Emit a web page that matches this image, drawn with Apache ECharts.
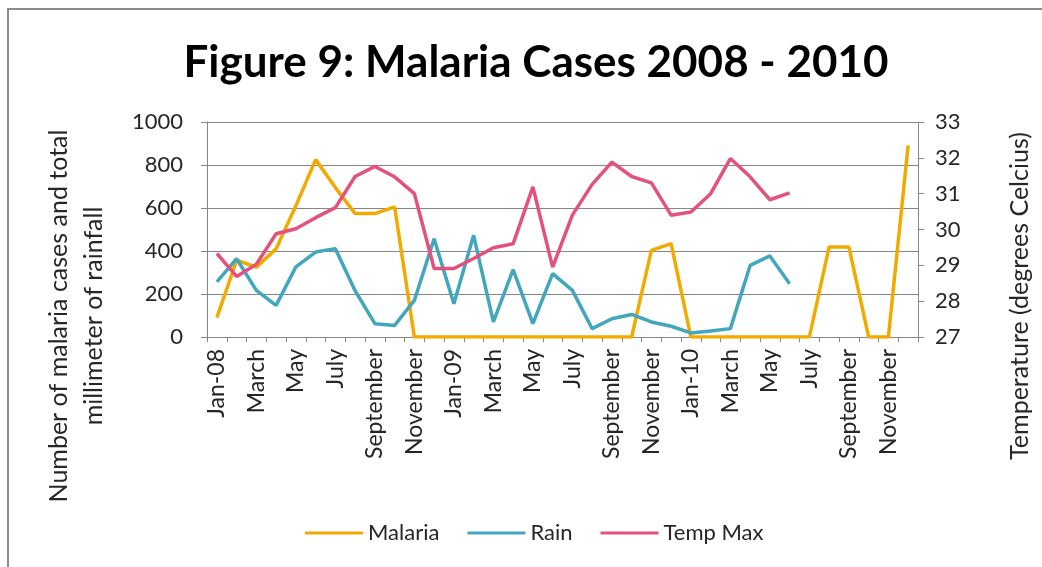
<!DOCTYPE html>
<html>
<head>
<meta charset="utf-8">
<script src="https://cdn.jsdelivr.net/npm/echarts@6/dist/echarts.min.js"></script>
<style>
  html, body { margin: 0; padding: 0; background: #ffffff; }
  #chart { width: 1042px; height: 567px; }
</style>
</head>
<body>
<div id="chart"></div>
<script>
// Months from January 2008 to December 2010; every other one is labelled.
const months = [
  'Jan-08', 'February', 'March', 'April', 'May', 'June', 'July', 'August', 'September', 'October', 'November', 'December',
  'Jan-09', 'February', 'March', 'April', 'May', 'June', 'July', 'August', 'September', 'October', 'November', 'December',
  'Jan-10', 'February', 'March', 'April', 'May', 'June', 'July', 'August', 'September', 'October', 'November', 'December'
];

// Monthly malaria cases
const malaria = [
  90, 357, 325, 410, 610, 825, 695, 574, 574, 605, 0, 0,
  0, 0, 0, 0, 0, 0, 0, 0, 0, 0, 403, 434,
  0, 0, 0, 0, 0, 0, 0, 419, 419, 0, 0, 891
];

// Total monthly rainfall (mm); no readings after June 2010
const rain = [
  256, 364, 217, 147, 326, 395, 411, 215, 62, 54, 170, 457,
  155, 473, 70, 313, 62, 295, 217, 39, 85, 105, 70, 50,
  19, 28, 39, 333, 377, 248, null, null, null, null, null, null
];

// Monthly maximum temperature (degrees Celsius)
const tempMax = [
  29.33, 28.69, 29.03, 29.88, 30.02, 30.33, 30.61, 31.48, 31.76, 31.47, 31.00, 28.91,
  28.91, 29.19, 29.49, 29.60, 31.19, 28.95, 30.40, 31.26, 31.88, 31.48, 31.30, 30.40,
  30.49, 31.00, 31.98, 31.47, 30.83, 31.02, null, null, null, null, null, null
];

const leftTicks = { min: 0, max: 1000, interval: 200 };
const rightTicks = { min: 27, max: 33, interval: 1 };

const FONT = 'Lato, "Open Sans", sans-serif';
const TEXT = '#262626';
const AXIS = '#868686';

const chart = echarts.init(document.getElementById('chart'), null, { renderer: 'canvas' });

chart.setOption({
  backgroundColor: '#ffffff',
  animation: false,
  title: {
    text: 'Figure 9: Malaria Cases 2008 - 2010',
    left: 531,
    top: 36,
    textAlign: 'center',
    textStyle: { fontFamily: FONT, fontWeight: 'bold', fontSize: 44, color: '#000000' }
  },
  legend: {
    left: 305,
    top: 522,
    padding: 0,
    itemWidth: 58,
    itemHeight: 3,
    itemGap: 28,
    icon: 'rect',
    textStyle: { fontFamily: FONT, fontSize: 22, color: TEXT },
    data: ['Malaria', 'Rain', 'Temp Max']
  },
  grid: { left: 207, right: 124, top: 122, bottom: 230, containLabel: false },
  xAxis: {
    type: 'category',
    data: months,
    boundaryGap: true,
    axisLine: { lineStyle: { color: AXIS, width: 1 } },
    axisTick: { show: true, interval: 0, length: 5, alignWithLabel: false, lineStyle: { color: AXIS } },
    axisLabel: {
      interval: 1,
      rotate: 90,
      margin: 12,
      fontFamily: FONT,
      fontSize: 23,
      color: TEXT
    }
  },
  yAxis: [
    {
      type: 'value',
      min: leftTicks.min,
      max: leftTicks.max,
      interval: leftTicks.interval,
      axisLine: { show: true, lineStyle: { color: AXIS } },
      axisTick: { show: true, length: 6, lineStyle: { color: AXIS } },
      splitLine: { show: true, lineStyle: { color: AXIS, width: 1 } },
      axisLabel: { margin: 24, fontFamily: FONT, fontSize: 22, color: TEXT, formatter: v => String(v) }
    },
    {
      type: 'value',
      position: 'right',
      min: rightTicks.min,
      max: rightTicks.max,
      interval: rightTicks.interval,
      axisLine: { show: true, lineStyle: { color: AXIS } },
      axisTick: { show: true, length: 6, lineStyle: { color: AXIS } },
      splitLine: { show: false },
      axisLabel: { margin: 17, fontFamily: FONT, fontSize: 22, color: TEXT, formatter: v => String(v) }
    }
  ],
  series: [
    {
      name: 'Malaria',
      type: 'line',
      yAxisIndex: 0,
      data: malaria,
      showSymbol: false,
      symbol: 'none',
      color: '#F2A900',
      lineStyle: { width: 3.5, color: '#F2A900' },
      z: 3
    },
    {
      name: 'Rain',
      type: 'line',
      yAxisIndex: 0,
      data: rain,
      showSymbol: false,
      symbol: 'none',
      color: '#42A6BC',
      lineStyle: { width: 3.5, color: '#42A6BC' },
      z: 4
    },
    {
      name: 'Temp Max',
      type: 'line',
      yAxisIndex: 1,
      data: tempMax,
      showSymbol: false,
      symbol: 'none',
      color: '#E4527C',
      lineStyle: { width: 3.5, color: '#E4527C' },
      z: 5
    }
  ],
  graphic: [
    {
      type: 'rect',
      silent: true,
      shape: { x: 8, y: 9, width: 1060, height: 600 },
      style: { fill: 'none', stroke: '#8a8a8a', lineWidth: 2 },
      z: -1
    },
    {
      type: 'text',
      x: 76,
      y: 316,
      rotation: Math.PI / 2,
      style: {
        text: 'Number of malaria cases and total\nmillimeter of rainfall',
        font: '25px ' + FONT,
        fill: TEXT,
        align: 'center',
        verticalAlign: 'middle',
        lineHeight: 35
      }
    },
    {
      type: 'text',
      x: 1020,
      y: 296,
      rotation: Math.PI / 2,
      style: {
        text: 'Temperature (degrees Celcius)',
        font: '25px ' + FONT,
        fill: TEXT,
        align: 'center',
        verticalAlign: 'middle'
      }
    }
  ]
});
</script>
</body>
</html>
